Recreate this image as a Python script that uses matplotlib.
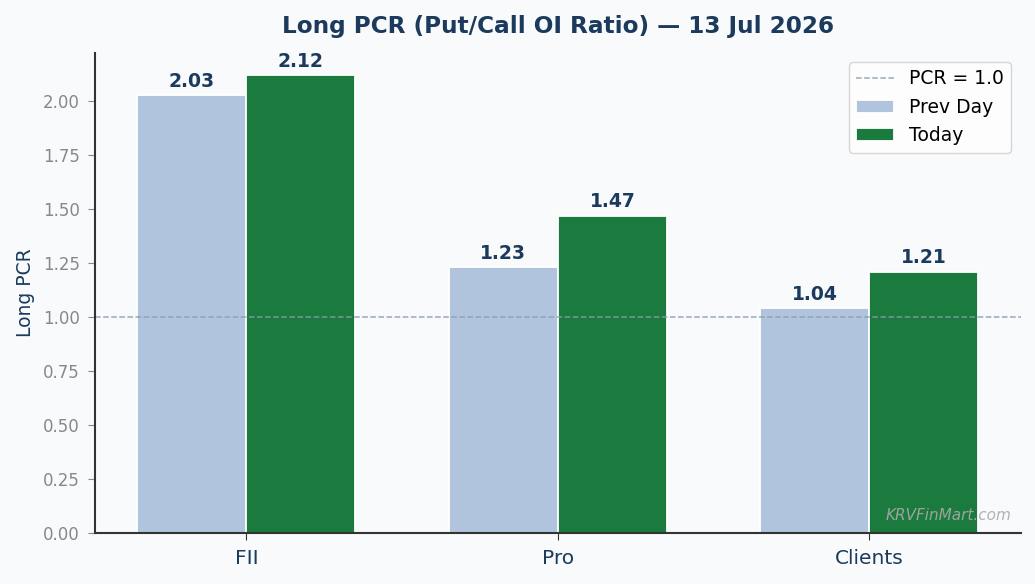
import numpy as np
import matplotlib.pyplot as plt

plt.rcParams.update({'font.family': 'DejaVu Sans', 'font.size': 13})

categories = ['FII', 'Pro', 'Clients']
prev_day = [2.03, 1.23, 1.04]
today = [2.12, 1.47, 1.21]
pcr_ref = 1.0

navy = '#1b3a5c'
bg = '#f8fafc'

fig, ax = plt.subplots(figsize=(10.35, 5.84), dpi=100)
fig.patch.set_facecolor(bg)
ax.set_facecolor(bg)

x = np.arange(len(categories))
w = 0.35
ax.axhline(pcr_ref, color='#8a9bb0', linestyle='--', linewidth=1.1, alpha=0.85, label='PCR = 1.0')
b1 = ax.bar(x - w/2, prev_day, w, color='#b0c4de', edgecolor='white', linewidth=1.3, label='Prev Day')
b2 = ax.bar(x + w/2, today, w, color='#1b7a3d', edgecolor='white', linewidth=1.3, label='Today')

for bars in (b1, b2):
    for r in bars:
        h = r.get_height()
        ax.text(r.get_x() + r.get_width()/2, h + 0.02, f'{h:.2f}', ha='center', va='bottom',
                fontsize=13.5, fontweight='bold', color=navy)

ax.set_ylim(0, max(today) * 1.05)
ax.set_xticks(x)
ax.set_xticklabels(categories, fontsize=14.5, color=navy)
ax.tick_params(axis='y', colors='#888888', labelsize=12, length=5, pad=6)
ax.tick_params(axis='x', colors='#333333', length=5, pad=7)
for lbl in ax.get_xticklabels():
    lbl.set_color(navy)
ax.set_ylabel('Long PCR', fontsize=13.5, color=navy, labelpad=6)
ax.set_title('Long PCR (Put/Call OI Ratio) — 13 Jul 2026', fontsize=16.7, fontweight='bold', color=navy, pad=14)
ax.spines['top'].set_visible(False)
ax.spines['right'].set_visible(False)
ax.spines['left'].set_color('#333333')
ax.spines['bottom'].set_color('#333333')
ax.spines['left'].set_linewidth(1.5)
ax.spines['bottom'].set_linewidth(1.5)

ax.legend(loc='upper right', fontsize=13.5)

ax.text(0.99, 0.02, 'KRVFinMart.com', transform=ax.transAxes, ha='right', va='bottom',
        fontsize=11, style='italic', color='#aaaaaa', alpha=0.9)

plt.subplots_adjust(left=0.092, right=0.986, top=0.91, bottom=0.088)
fig.savefig('out.png', dpi=100, facecolor=bg)
